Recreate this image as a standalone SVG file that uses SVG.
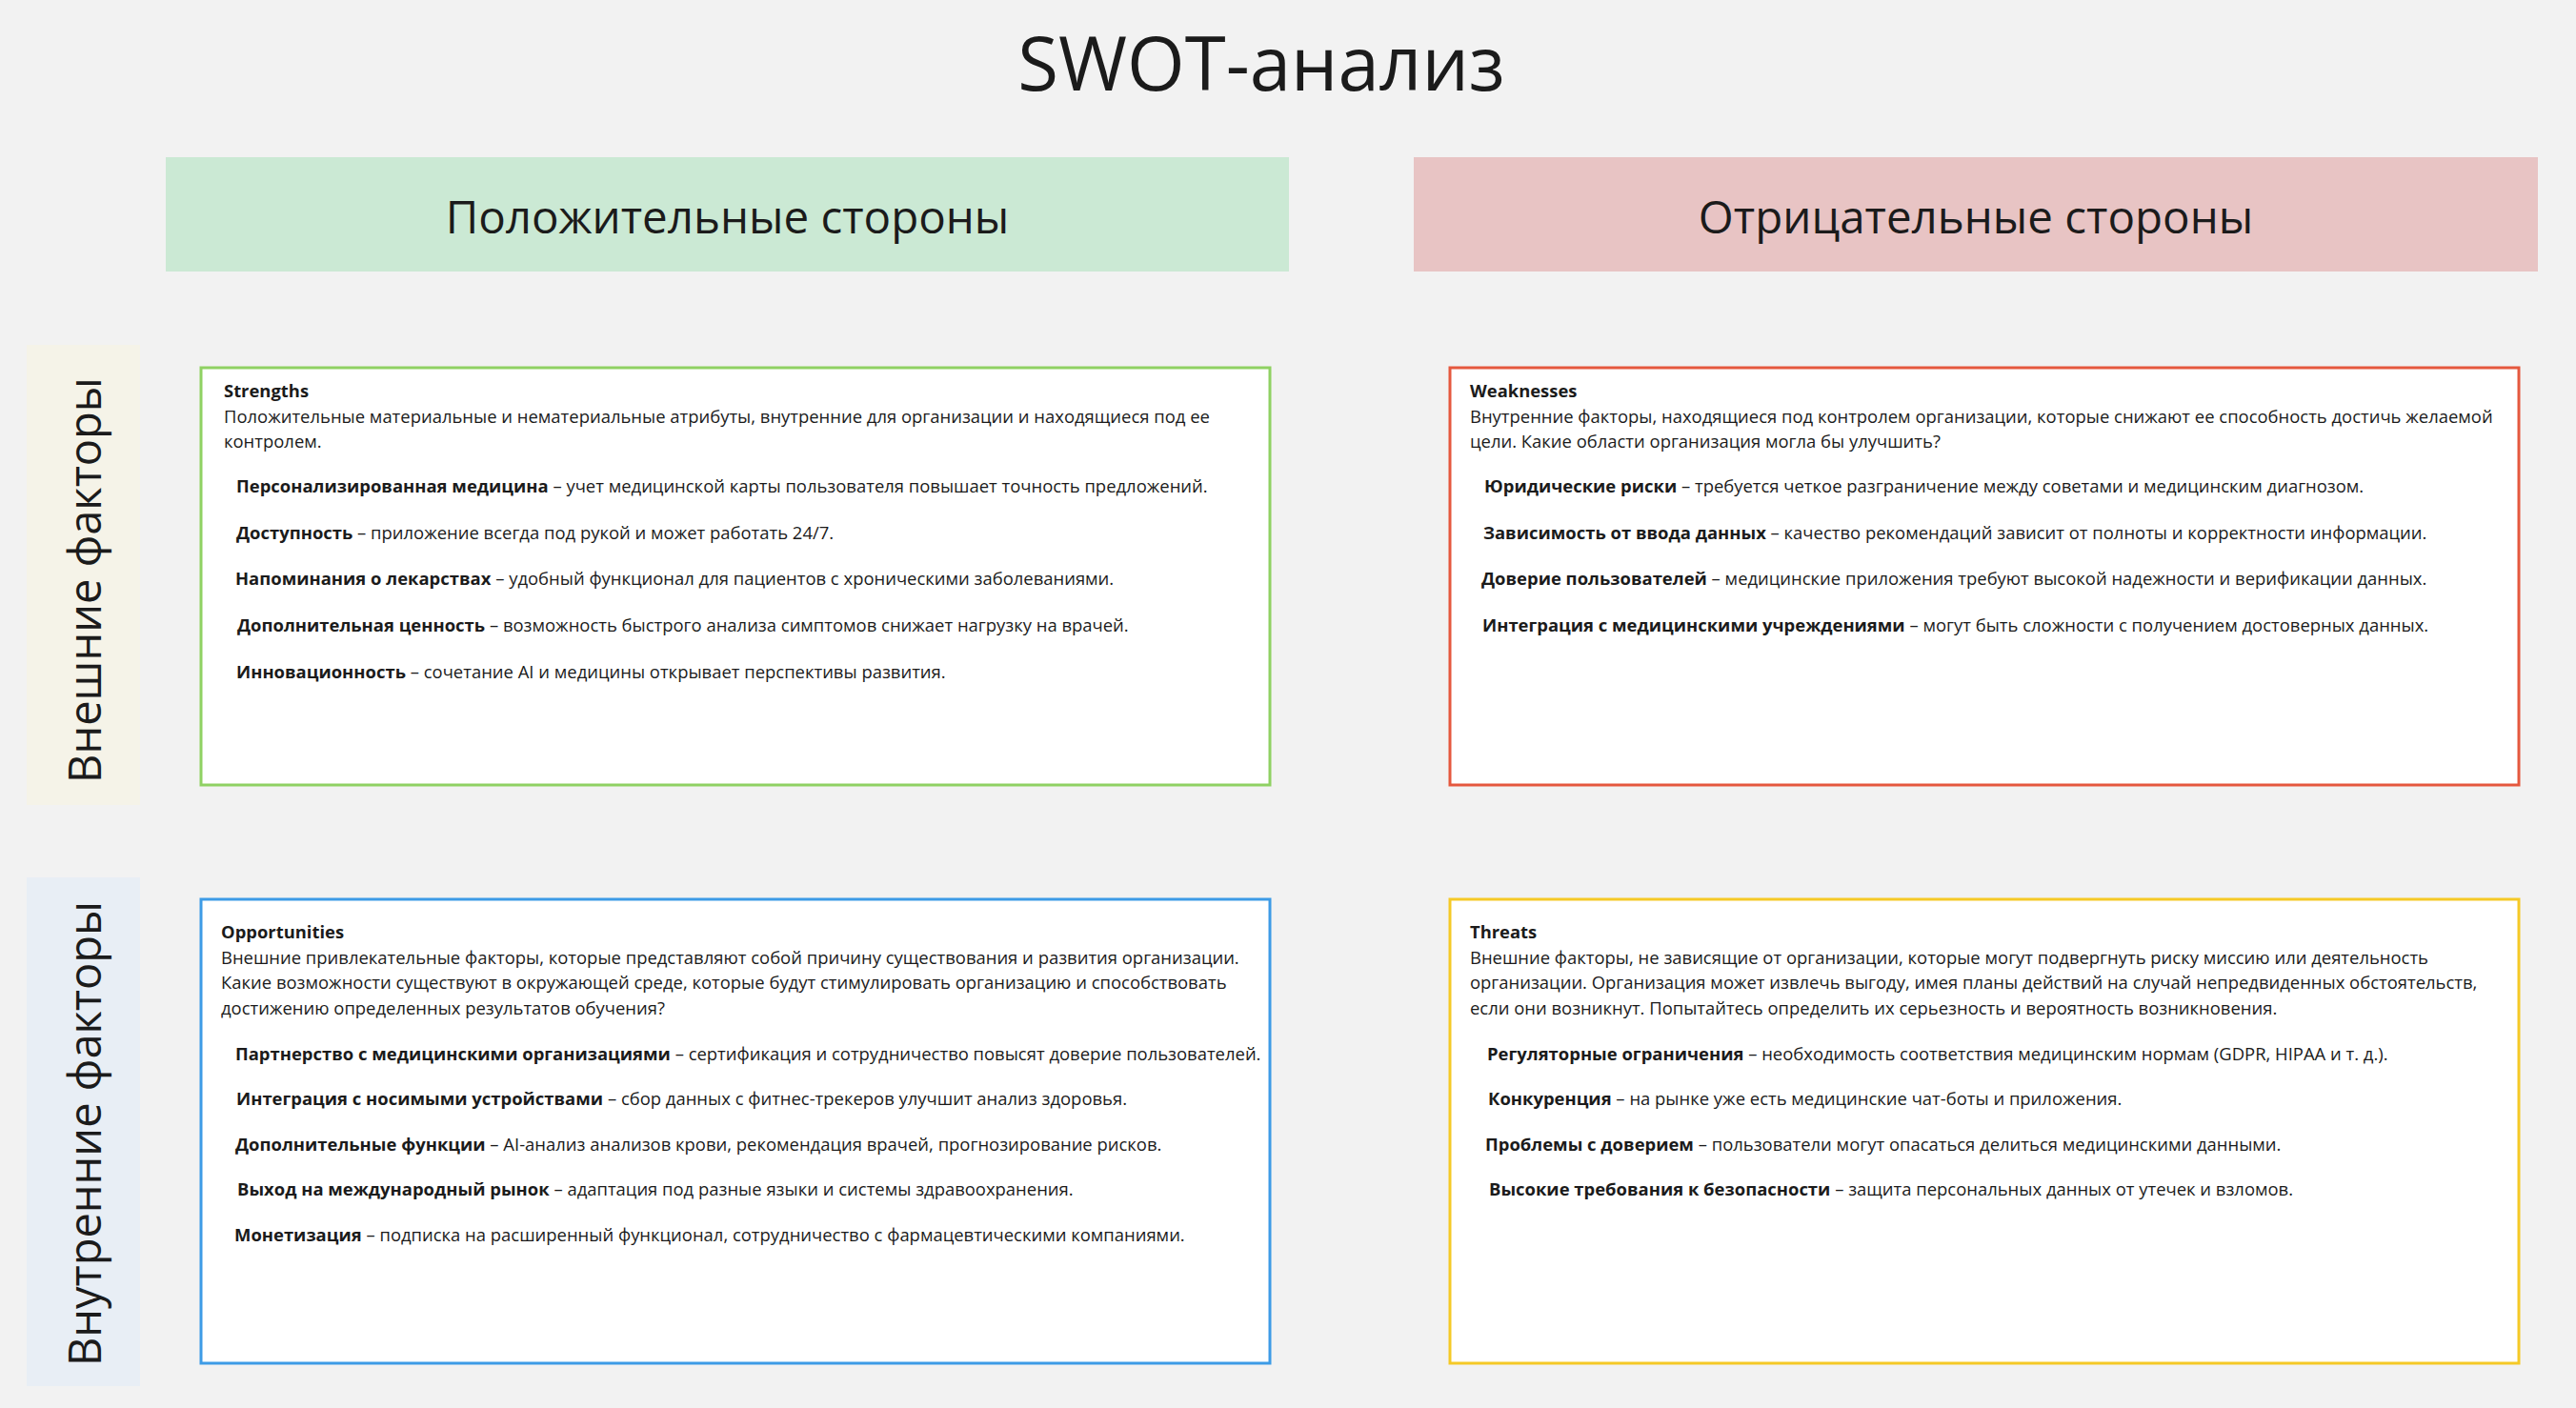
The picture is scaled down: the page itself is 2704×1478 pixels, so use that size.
<svg xmlns="http://www.w3.org/2000/svg" width="2704" height="1478" viewBox="0 0 2704 1478">
<style>
text{font-family:"Open Sans","Noto Sans","DejaVu Sans",sans-serif;fill:#1b1b1b}
.title{font-size:78px}
.hdr{font-size:47.5px}
.side{font-size:47px}
.t{font-size:18.4px;font-weight:700}
.d{font-size:18.45px}
.b{font-weight:700}
.quad{fill:#ffffff;stroke-width:3}
</style>
<rect x="0" y="0" width="2704" height="1478" fill="#f2f2f2"/>
<g id="title"><text class="title" x="1324" y="95" text-anchor="middle">SWOT-анализ</text></g>
<g id="hdr-positive"><rect x="174" y="165" width="1179" height="120" fill="#cbe9d4"/><text class="hdr" x="763.5" y="245" text-anchor="middle">Положительные стороны</text></g>
<g id="hdr-negative"><rect x="1484" y="165" width="1180" height="120" fill="#e8c4c4"/><text class="hdr" x="2074" y="245" text-anchor="middle">Отрицательные стороны</text></g>
<g id="side-external"><rect x="28" y="362" width="119" height="483" fill="#f5f3e8"/><text class="side" transform="translate(106,609) rotate(-90)" text-anchor="middle">Внешние факторы</text></g>
<g id="side-internal"><rect x="28" y="921" width="119" height="534" fill="#e8eef5"/><text class="side" transform="translate(106,1190) rotate(-90)" text-anchor="middle">Внутренние факторы</text></g>
<g id="strengths">
<rect class="quad" x="211" y="386" width="1122" height="438" stroke="#8fd163"/>
<text class="t" x="235" y="417">Strengths</text>
<text class="d" x="235" y="444">Положительные материальные и нематериальные атрибуты, внутренние для организации и находящиеся под ее</text>
<text class="d" x="235" y="470">контролем.</text>
<text class="d" x="248" y="517"><tspan class="b">Персонализированная медицина</tspan> – учет медицинской карты пользователя повышает точность предложений.</text>
<text class="d" x="248" y="566"><tspan class="b">Доступность</tspan> – приложение всегда под рукой и может работать 24/7.</text>
<text class="d" x="247" y="614"><tspan class="b">Напоминания о лекарствах</tspan> – удобный функционал для пациентов с хроническими заболеваниями.</text>
<text class="d" x="249" y="663"><tspan class="b">Дополнительная ценность</tspan> – возможность быстрого анализа симптомов снижает нагрузку на врачей.</text>
<text class="d" x="248" y="712"><tspan class="b">Инновационность</tspan> – сочетание AI и медицины открывает перспективы развития.</text>
</g>
<g id="weaknesses">
<rect class="quad" x="1522" y="386" width="1122" height="438" stroke="#e5583e"/>
<text class="t" x="1543" y="417">Weaknesses</text>
<text class="d" x="1543" y="444">Внутренние факторы, находящиеся под контролем организации, которые снижают ее способность достичь желаемой</text>
<text class="d" x="1543" y="470">цели. Какие области организация могла бы улучшить?</text>
<text class="d" x="1558" y="517"><tspan class="b">Юридические риски</tspan> – требуется четкое разграничение между советами и медицинским диагнозом.</text>
<text class="d" x="1557" y="566"><tspan class="b">Зависимость от ввода данных</tspan> – качество рекомендаций зависит от полноты и корректности информации.</text>
<text class="d" x="1555" y="614"><tspan class="b">Доверие пользователей</tspan> – медицинские приложения требуют высокой надежности и верификации данных.</text>
<text class="d" x="1556" y="663"><tspan class="b">Интеграция с медицинскими учреждениями</tspan> – могут быть сложности с получением достоверных данных.</text>
</g>
<g id="opportunities">
<rect class="quad" x="211" y="944" width="1122" height="487" stroke="#3d9be6"/>
<text class="t" x="232" y="985">Opportunities</text>
<text class="d" x="232" y="1012">Внешние привлекательные факторы, которые представляют собой причину существования и развития организации.</text>
<text class="d" x="232" y="1038">Какие возможности существуют в окружающей среде, которые будут стимулировать организацию и способствовать</text>
<text class="d" x="232" y="1065">достижению определенных результатов обучения?</text>
<text class="d" x="247" y="1113"><tspan class="b">Партнерство с медицинскими организациями</tspan> – сертификация и сотрудничество повысят доверие пользователей.</text>
<text class="d" x="248" y="1160"><tspan class="b">Интеграция с носимыми устройствами</tspan> – сбор данных с фитнес-трекеров улучшит анализ здоровья.</text>
<text class="d" x="247" y="1208"><tspan class="b">Дополнительные функции</tspan> – AI-анализ анализов крови, рекомендация врачей, прогнозирование рисков.</text>
<text class="d" x="249" y="1255"><tspan class="b">Выход на международный рынок</tspan> – адаптация под разные языки и системы здравоохранения.</text>
<text class="d" x="246" y="1303"><tspan class="b">Монетизация</tspan> – подписка на расширенный функционал, сотрудничество с фармацевтическими компаниями.</text>
</g>
<g id="threats">
<rect class="quad" x="1522" y="944" width="1122" height="487" stroke="#f5c926"/>
<text class="t" x="1543" y="985">Threats</text>
<text class="d" x="1543" y="1012">Внешние факторы, не зависящие от организации, которые могут подвергнуть риску миссию или деятельность</text>
<text class="d" x="1543" y="1038">организации. Организация может извлечь выгоду, имея планы действий на случай непредвиденных обстоятельств,</text>
<text class="d" x="1543" y="1065">если они возникнут. Попытайтесь определить их серьезность и вероятность возникновения.</text>
<text class="d" x="1561" y="1113"><tspan class="b">Регуляторные ограничения</tspan> – необходимость соответствия медицинским нормам (GDPR, HIPAA и т. д.).</text>
<text class="d" x="1562" y="1160"><tspan class="b">Конкуренция</tspan> – на рынке уже есть медицинские чат-боты и приложения.</text>
<text class="d" x="1559" y="1208"><tspan class="b">Проблемы с доверием</tspan> – пользователи могут опасаться делиться медицинскими данными.</text>
<text class="d" x="1563" y="1255"><tspan class="b">Высокие требования к безопасности</tspan> – защита персональных данных от утечек и взломов.</text>
</g>
<g id="connectors"></g>
</svg>
